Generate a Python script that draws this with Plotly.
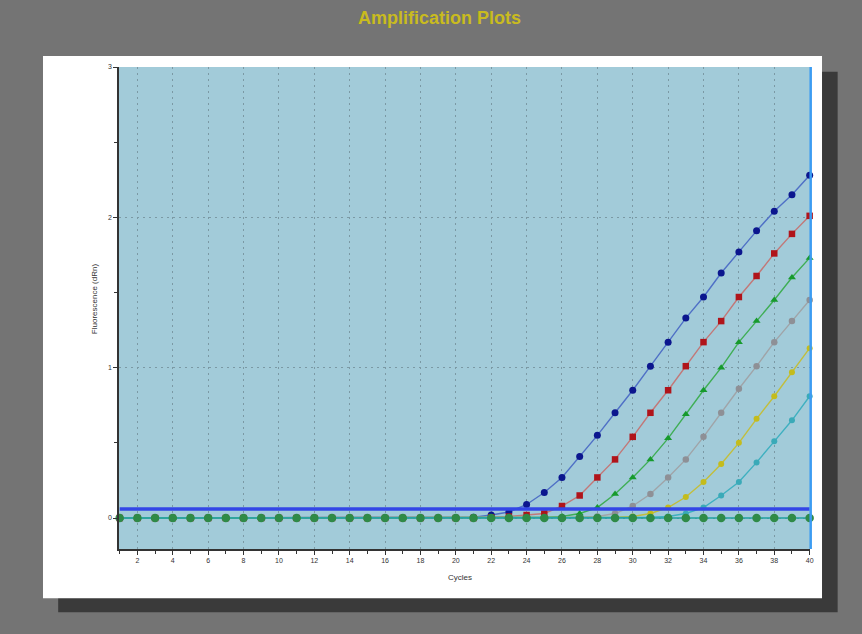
import plotly.graph_objects as go

cycles = list(range(1, 41))

blue_vals = [0.0, 0.0, 0.0, 0.0, 0.0, 0.0, 0.0, 0.0, 0.0, 0.0,
             0.0, 0.0, 0.0, 0.0, 0.0, 0.0, 0.0, 0.0, 0.0, 0.0,
             0.005, 0.02, 0.04, 0.09, 0.17, 0.27, 0.41, 0.55, 0.70, 0.85,
             1.01, 1.17, 1.33, 1.47, 1.63, 1.77, 1.91, 2.04, 2.15, 2.28]
red_vals = [0.0, 0.0, 0.0, 0.0, 0.0, 0.0, 0.0, 0.0, 0.0, 0.0,
            0.0, 0.0, 0.0, 0.0, 0.0, 0.0, 0.0, 0.0, 0.0, 0.0,
            0.0, 0.005, 0.01, 0.02, 0.03, 0.08, 0.15, 0.27, 0.39, 0.54,
            0.70, 0.85, 1.01, 1.17, 1.31, 1.47, 1.61, 1.76, 1.89, 2.01]
green_vals = [0.0, 0.0, 0.0, 0.0, 0.0, 0.0, 0.0, 0.0, 0.0, 0.0,
              0.0, 0.0, 0.0, 0.0, 0.0, 0.0, 0.0, 0.0, 0.0, 0.0,
              0.0, 0.0, 0.0, 0.0, 0.005, 0.01, 0.03, 0.07, 0.16, 0.27,
              0.39, 0.53, 0.69, 0.85, 1.00, 1.17, 1.31, 1.45, 1.60, 1.73]
gray_vals = [0.0, 0.0, 0.0, 0.0, 0.0, 0.0, 0.0, 0.0, 0.0, 0.0,
             0.0, 0.0, 0.0, 0.0, 0.0, 0.0, 0.0, 0.0, 0.0, 0.0,
             0.0, 0.0, 0.0, 0.0, 0.0, 0.0, 0.005, 0.01, 0.03, 0.08,
             0.16, 0.27, 0.39, 0.54, 0.70, 0.86, 1.01, 1.17, 1.31, 1.45]
yellow_vals = [0.0, 0.0, 0.0, 0.0, 0.0, 0.0, 0.0, 0.0, 0.0, 0.0,
               0.0, 0.0, 0.0, 0.0, 0.0, 0.0, 0.0, 0.0, 0.0, 0.0,
               0.0, 0.0, 0.0, 0.0, 0.0, 0.0, 0.0, 0.0, 0.005, 0.01,
               0.03, 0.07, 0.14, 0.24, 0.36, 0.50, 0.66, 0.81, 0.97, 1.13]
teal_vals = [0.0, 0.0, 0.0, 0.0, 0.0, 0.0, 0.0, 0.0, 0.0, 0.0,
             0.0, 0.0, 0.0, 0.0, 0.0, 0.0, 0.0, 0.0, 0.0, 0.0,
             0.0, 0.0, 0.0, 0.0, 0.0, 0.0, 0.0, 0.0, 0.0, 0.0,
             0.005, 0.01, 0.03, 0.07, 0.15, 0.24, 0.37, 0.51, 0.65, 0.81]
baseline_vals = [0.0] * 40
threshold = 0.06

x_ticks = list(range(2, 41, 2))
y_ticks = [0, 1, 2, 3]

series = [
    ("blue", blue_vals, "circle", "#0b168e", "#4f70c6", 7),
    ("red", red_vals, "square", "#b0141a", "#c27878", 6.5),
    ("green", green_vals, "triangle-up", "#169a2c", "#3fae55", 7),
    ("gray", gray_vals, "circle", "#8e9096", "#a0a4a8", 6.5),
    ("yellow", yellow_vals, "circle", "#c4bc1c", "#c2be3c", 6),
    ("teal", teal_vals, "circle", "#3aaab8", "#3fb0c0", 6),
]

fig = go.Figure()

for name, vals, sym, mcol, lcol, ms in series:
    fig.add_trace(go.Scatter(
        x=cycles, y=vals, mode="lines+markers", name=name,
        line=dict(color=lcol, width=1.4),
        marker=dict(symbol=sym, color=mcol, size=ms, line=dict(width=0)),
        cliponaxis=False, showlegend=False))

fig.add_trace(go.Scatter(
    x=[cycles[0], cycles[-1]], y=[threshold, threshold], mode="lines",
    line=dict(color="#3346e6", width=3.5), showlegend=False, cliponaxis=False))

fig.add_trace(go.Scatter(
    x=cycles, y=baseline_vals, mode="lines+markers",
    line=dict(color="#1fa0a0", width=1.4),
    marker=dict(symbol="circle", color="#2f8a47", size=8.5, line=dict(width=0)),
    showlegend=False, cliponaxis=False))

shapes = [
    dict(type="rect", xref="paper", yref="paper", x0=-0.088, x1=1.040, y0=-0.131, y1=0.990,
         fillcolor="#3a3a3a", line=dict(width=0), layer="below"),
    dict(type="rect", xref="paper", yref="paper", x0=-0.110, x1=1.0174, y0=-0.102, y1=1.0228,
         fillcolor="#ffffff", line=dict(width=0), layer="below"),
    dict(type="rect", xref="paper", yref="paper", x0=0, x1=1, y0=0, y1=1,
         fillcolor="#a2cbd9", line=dict(width=0), layer="below"),
    dict(type="line", xref="paper", yref="paper", x0=1.001, x1=1.001, y0=0, y1=1,
         line=dict(color="#3c9cf2", width=2.5), layer="above"),
]

annotations = [
    dict(text="<b>Amplification Plots</b>", xref="paper", yref="paper", x=0.464, y=1.102,
         showarrow=False, font=dict(family="Liberation Sans, Arial", size=18, color="#c9bb1e"),
         xanchor="center", yanchor="middle"),
    dict(text="Fluorescence (dRn)", xref="paper", yref="paper", x=-0.035, y=0.52,
         showarrow=False, textangle=-90, font=dict(family="Liberation Sans, Arial", size=8, color="#333333"),
         xanchor="center", yanchor="middle"),
    dict(text="Cycles", xref="paper", yref="paper", x=0.494, y=-0.060,
         showarrow=False, font=dict(family="Liberation Sans, Arial", size=8, color="#333333"),
         xanchor="center", yanchor="middle"),
]

fig.update_layout(
    width=862, height=634,
    margin=dict(l=119, r=52, t=67, b=85),
    paper_bgcolor="#747474",
    plot_bgcolor="rgba(0,0,0,0)",
    shapes=shapes,
    annotations=annotations,
    font=dict(family="Liberation Sans, Arial", size=7, color="#333333"),
)

fig.update_xaxes(
    range=[0.96, 40.02], tickvals=x_ticks, ticktext=[str(v) for v in x_ticks],
    showgrid=True, gridcolor="#7b99a4", griddash="2px,4px", gridwidth=1,
    ticks="outside", ticklen=4, tickcolor="#333333",
    minor=dict(dtick=1, tick0=1, ticks="outside", ticklen=3, tickcolor="#333333", showgrid=False),
    showline=True, linecolor="#333333", linewidth=1.5, zeroline=False,
    tickfont=dict(size=7, color="#333333"))

fig.update_yaxes(
    range=[-0.206, 3.0], tickvals=y_ticks, ticktext=[str(v) for v in y_ticks],
    showgrid=True, gridcolor="#7b99a4", griddash="2px,4px", gridwidth=1,
    ticks="outside", ticklen=4, tickcolor="#333333",
    minor=dict(dtick=0.5, tick0=0, ticks="outside", ticklen=3, tickcolor="#333333", showgrid=False),
    showline=True, linecolor="#333333", linewidth=1.5, zeroline=False,
    tickfont=dict(size=7, color="#333333"))

fig.write_html("out.html", config={"displayModeBar": False},
               post_script="document.body.style.margin='0';document.body.style.overflow='hidden';")
